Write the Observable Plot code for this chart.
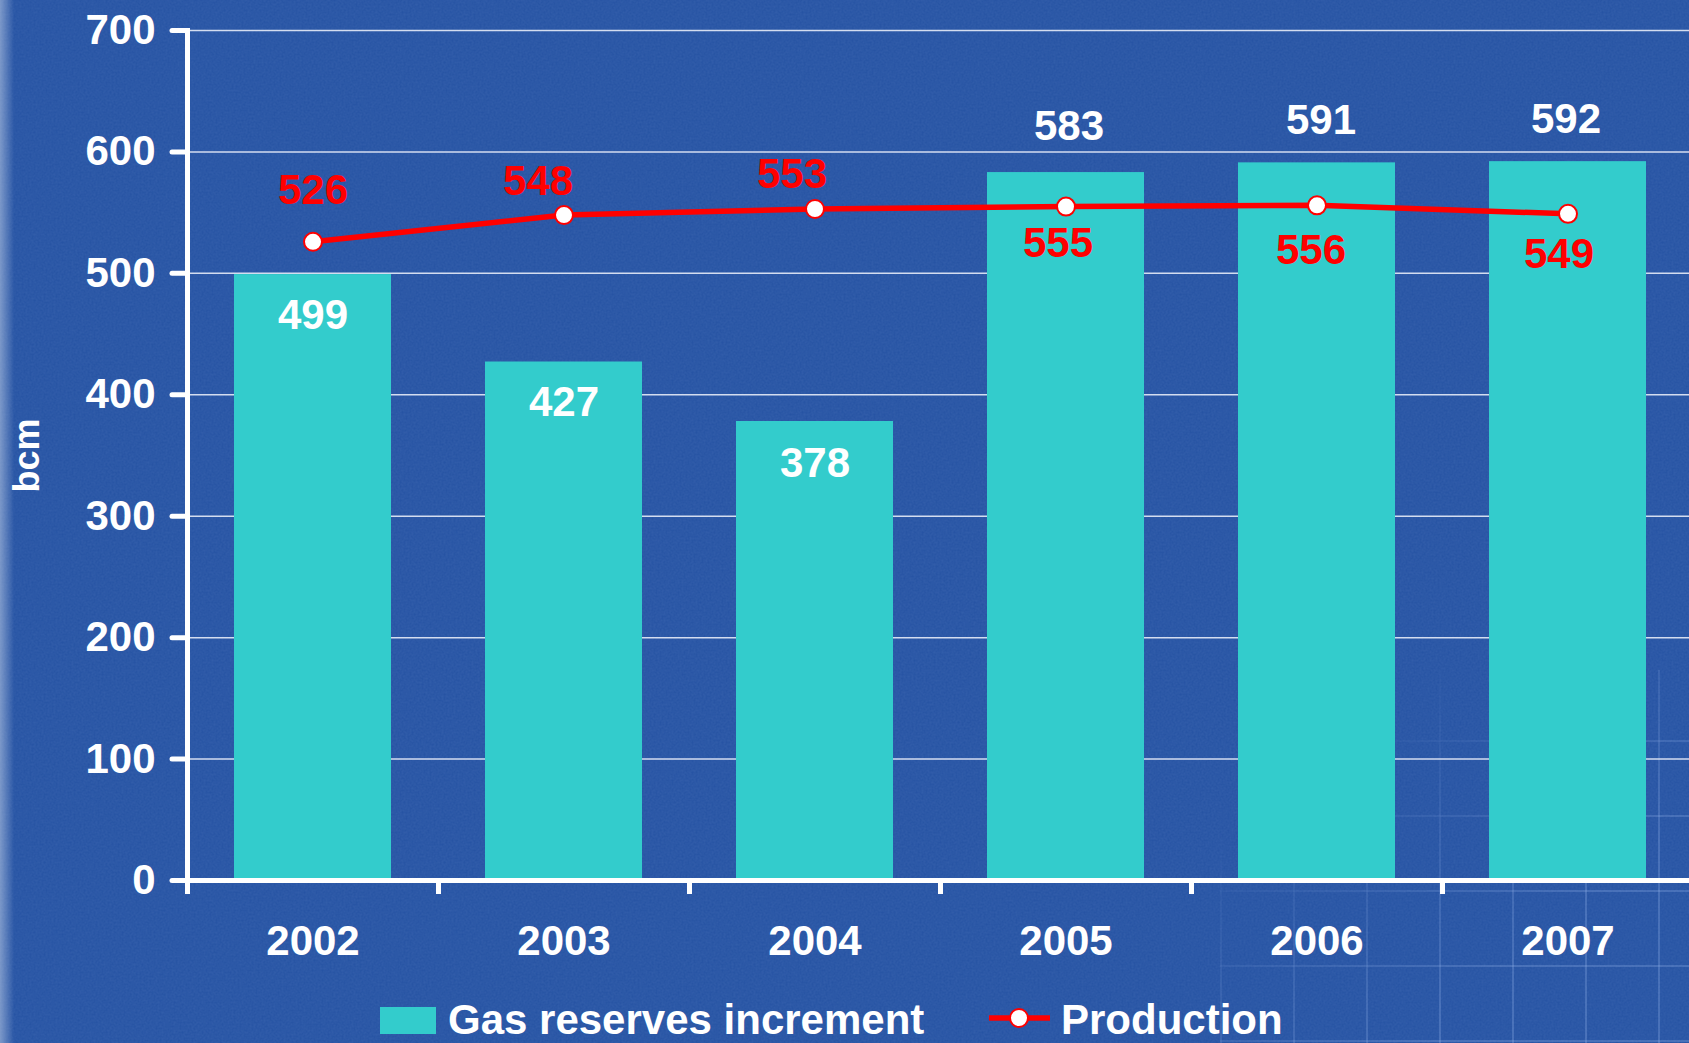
<!DOCTYPE html>
<html>
<head>
<meta charset="utf-8">
<script src="https://cdn.jsdelivr.net/npm/d3@7"></script>
<script src="https://cdn.jsdelivr.net/npm/@observablehq/plot@0.6"></script>
<style>
html, body { margin: 0; padding: 0; }
body {
  width: 1689px; height: 1043px; overflow: hidden; position: relative;
  background-color: #2451a2;
  background-image:
    linear-gradient(to right, rgba(190,205,230,0.55) 0px, rgba(190,205,230,0.0) 14px),
    url("data:image/svg+xml;utf8,<svg xmlns='http://www.w3.org/2000/svg' width='400' height='400'><filter id='n'><feTurbulence type='fractalNoise' baseFrequency='0.5' numOctaves='3' stitchTiles='stitch'/><feColorMatrix values='0 0 0 0 0.25  0 0 0 0 0.4  0 0 0 0 0.72  0 0 0 0.16 0'/></filter><rect width='100%' height='100%' filter='url(%23n)'/></svg>");
  font-family: "Liberation Sans", Arial, sans-serif;
}
#deco {
  position: absolute; left: 1220px; top: 670px; width: 469px; height: 373px;
  background-image:
    linear-gradient(to right, rgba(150,180,235,0.28) 2px, transparent 2px),
    linear-gradient(to bottom, rgba(150,180,235,0.28) 2px, transparent 2px);
  background-size: 73px 75px;
  background-position: 0px 70px;
  -webkit-mask-image: linear-gradient(to top left, black 30%, transparent 80%);
  mask-image: linear-gradient(to top left, black 30%, transparent 80%);
}
#chart { position: absolute; left: 0; top: 0; }
#legend { position: absolute; left: 0; top: 985px; }
</style>
</head>
<body>
<div id="deco"></div>
<div id="chart"></div>
<svg id="legend" width="1689" height="58"></svg>
<script>
// ---- data ----
const years = ["2002", "2003", "2004", "2005", "2006", "2007"];
const reserves = [499, 427, 378, 583, 591, 592];
const production = [526, 548, 553, 555, 556, 549];
const yTicks = [0, 100, 200, 300, 400, 500, 600, 700];
const seriesNames = ["Gas reserves increment", "Production"];

// ---- styling ----
const W = 1689, H = 985, ML = 187, MR = -4, MT = 30, MB = 105;
const step = (W - ML - MR) / years.length;
const BAR = "#33cccc", RED = "#ff0000", FONT = "'Liberation Sans', Arial, sans-serif";
const idx = years.map((_, i) => i);

// per-label offsets (pixels)
const barLabelOff = [[0, 41], [0, 41], [0, 42], [3, -46], [4, -42], [-2, -42]];
const prodLabelOff = [[0, -51], [-26, -34], [-23, -34], [-8, 37], [-6, 45], [-9, 41]];

const barLabels = idx.map(i => Plot.text([i], {
  x: j => years[j], y: j => reserves[j], text: j => String(reserves[j]),
  dx: barLabelOff[i][0], dy: barLabelOff[i][1],
  fill: "white", fontSize: 42, fontWeight: "bold"
}));
const prodLabels = idx.map(i => Plot.text([i], {
  x: j => years[j], y: j => production[j], text: j => String(production[j]),
  dx: prodLabelOff[i][0], dy: prodLabelOff[i][1],
  fill: RED, fontSize: 42, fontWeight: "bold"
}));

const chart = Plot.plot({
  width: W, height: H,
  marginLeft: ML, marginRight: MR, marginTop: MT, marginBottom: MB,
  style: { fontFamily: FONT, background: "transparent", color: "white", overflow: "visible" },
  x: { type: "band", domain: years, paddingInner: 0.375, paddingOuter: 0.1875, label: null },
  y: { domain: [0, 700], label: null },
  marks: [
    Plot.ruleY(yTicks.slice(1), { stroke: "#d4ddf0", strokeWidth: 1.5 }),
    Plot.barY(idx, { x: i => years[i], y: i => reserves[i], fill: BAR }),
    // boundary ticks below the x axis
    Plot.ruleX(years, { x: d => d, y: 0, dx: -step / 2, insetBottom: -14, stroke: "white", strokeWidth: 5 }),
    Plot.ruleY([0], { stroke: "white", strokeWidth: 5 }),
    Plot.frame({ anchor: "left", stroke: "white", strokeWidth: 5 }),
    Plot.axisY({
      ticks: yTicks, tickSize: 15, tickPadding: 17, tickFormat: d => String(d),
      fontSize: 42, fontWeight: "bold", fill: "white", stroke: "white", strokeWidth: 5,
      strokeLinecap: "round", label: null
    }),
    Plot.axisX({
      tickSize: 0, tickPadding: 45, fontSize: 42, fontWeight: "bold", fill: "white", label: null
    }),
    Plot.text(["bcm"], {
      frameAnchor: "left", textAnchor: "middle", dx: -160, rotate: -90, text: d => d,
      fill: "white", fontSize: 36, fontWeight: "bold"
    }),
    Plot.line(idx, { x: i => years[i], y: i => production[i], stroke: RED, strokeWidth: 5.5 }),
    Plot.dot(idx, { x: i => years[i], y: i => production[i], r: 9, fill: "white", stroke: RED, strokeWidth: 2 }),
    ...barLabels,
    ...prodLabels
  ]
});
document.getElementById("chart").appendChild(chart);

// ---- legend ----
const lg = d3.select("#legend");
lg.append("rect").attr("x", 380).attr("y", 22).attr("width", 56).attr("height", 27).attr("fill", BAR);
lg.append("text").attr("x", 448).attr("y", 49).attr("fill", "white")
  .attr("font-family", FONT).attr("font-size", 42).attr("font-weight", "bold").text(seriesNames[0]);
lg.append("line").attr("x1", 989).attr("x2", 1050).attr("y1", 33).attr("y2", 33)
  .attr("stroke", RED).attr("stroke-width", 5.5);
lg.append("circle").attr("cx", 1019).attr("cy", 33).attr("r", 9)
  .attr("fill", "white").attr("stroke", RED).attr("stroke-width", 2);
lg.append("text").attr("x", 1061).attr("y", 49).attr("fill", "white")
  .attr("font-family", FONT).attr("font-size", 42).attr("font-weight", "bold").text(seriesNames[1]);
</script>
</body>
</html>
